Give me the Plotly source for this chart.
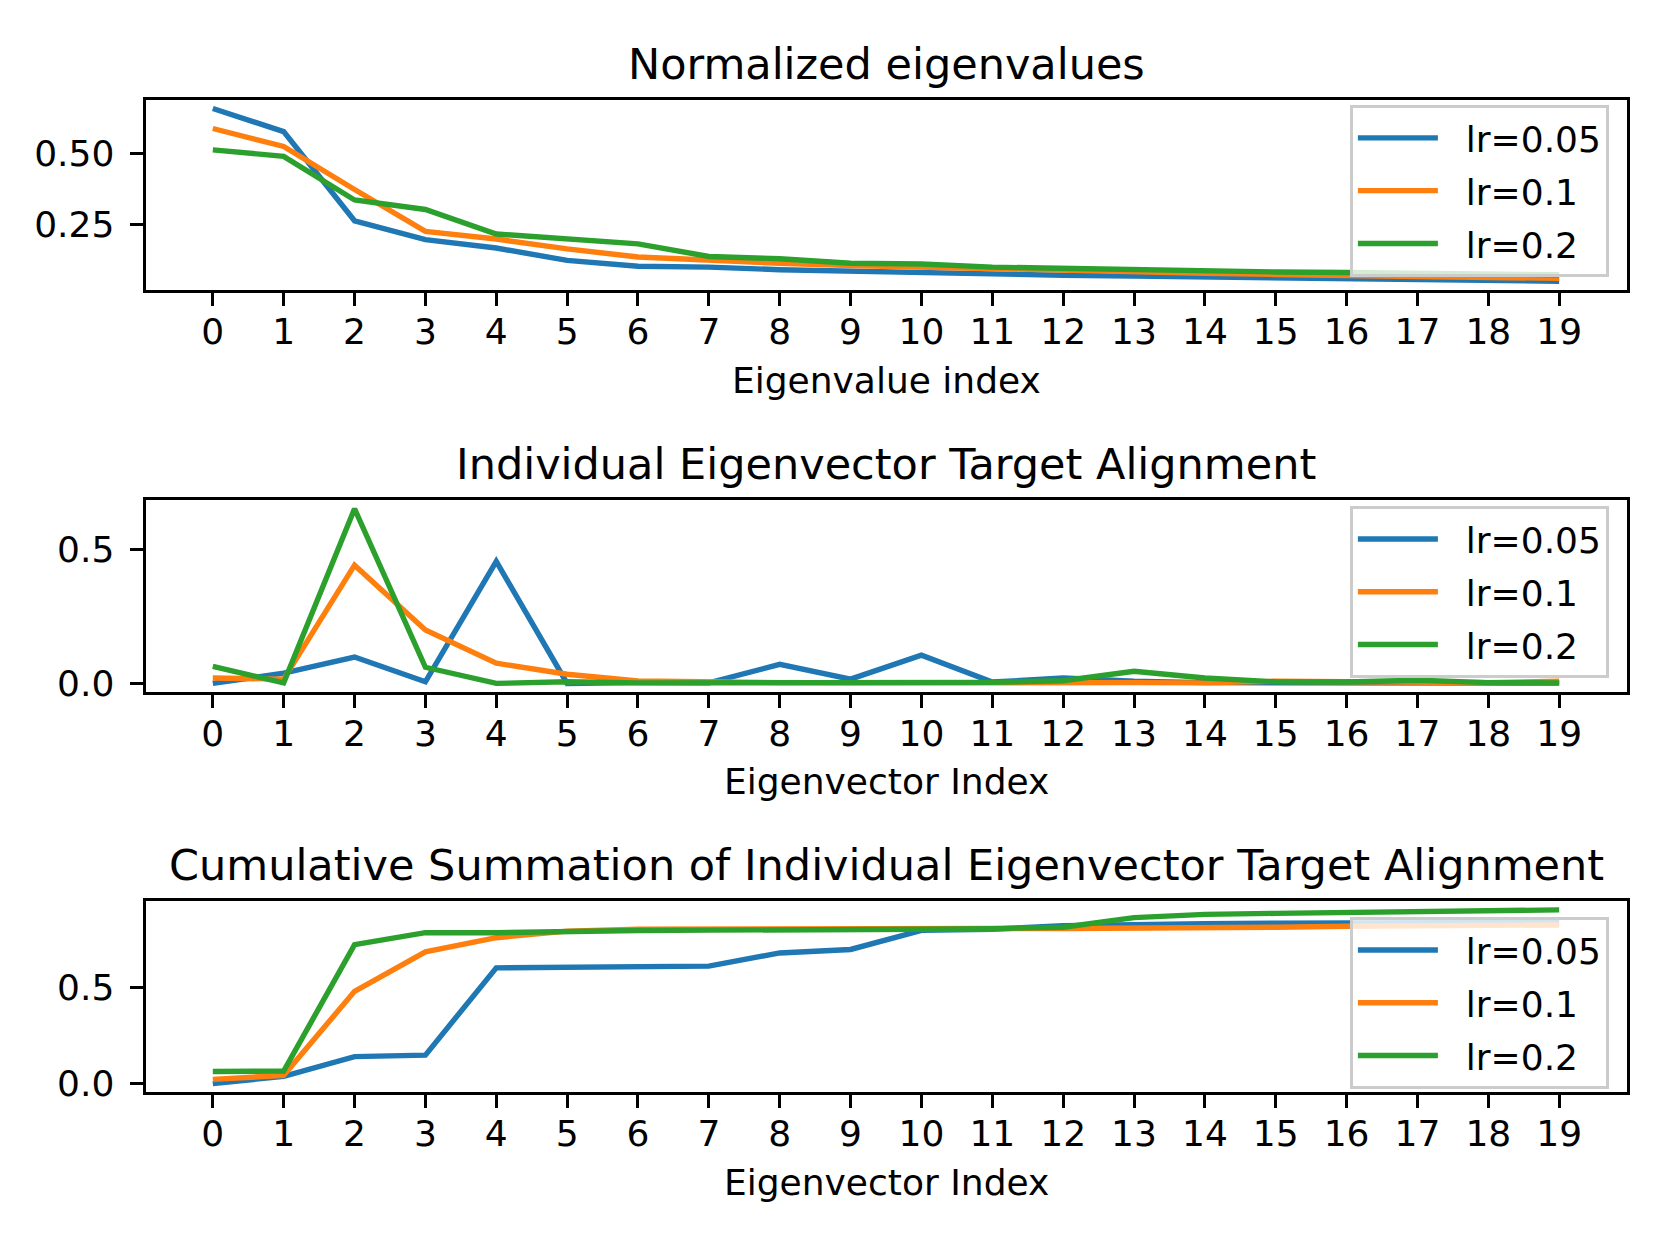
import plotly.graph_objects as go

idx = list(range(20))
labels = ["lr=0.05", "lr=0.1", "lr=0.2"]
colors = ["#1f77b4", "#ff7f0e", "#2ca02c"]

eig_005 = [0.661, 0.579, 0.262, 0.195, 0.165, 0.121, 0.100, 0.097, 0.088, 0.083,
           0.075, 0.071, 0.068, 0.065, 0.062, 0.059, 0.056, 0.053, 0.050, 0.047]
eig_01 = [0.590, 0.526, 0.373, 0.224, 0.197, 0.162, 0.133, 0.121, 0.111, 0.103,
          0.097, 0.089, 0.083, 0.079, 0.075, 0.071, 0.068, 0.064, 0.060, 0.057]
eig_02 = [0.514, 0.491, 0.336, 0.302, 0.215, 0.197, 0.180, 0.135, 0.127, 0.111,
          0.108, 0.097, 0.092, 0.088, 0.084, 0.080, 0.078, 0.075, 0.072, 0.070]

ind_005 = [0.000, 0.038, 0.098, 0.006, 0.454, 0.000, 0.003, 0.002, 0.071, 0.016,
           0.105, 0.005, 0.020, 0.008, 0.003, 0.002, 0.001, 0.001, 0.001, 0.001]
ind_01 = [0.020, 0.016, 0.440, 0.199, 0.075, 0.034, 0.009, 0.004, 0.003, 0.002,
          0.003, 0.003, 0.002, 0.003, 0.002, 0.008, 0.006, 0.004, 0.003, 0.008]
ind_02 = [0.063, 0.002, 0.650, 0.060, 0.000, 0.006, 0.002, 0.002, 0.001, 0.002,
          0.004, 0.004, 0.010, 0.045, 0.020, 0.006, 0.005, 0.012, 0.003, 0.002]

cum_005 = [0.000, 0.038, 0.140, 0.148, 0.600, 0.602, 0.606, 0.609, 0.677, 0.695,
           0.794, 0.800, 0.818, 0.826, 0.829, 0.831, 0.833, 0.834, 0.835, 0.836]
cum_01 = [0.022, 0.043, 0.478, 0.683, 0.756, 0.790, 0.800, 0.802, 0.802, 0.803,
          0.803, 0.804, 0.804, 0.805, 0.805, 0.810, 0.815, 0.818, 0.820, 0.822]
cum_02 = [0.063, 0.065, 0.720, 0.782, 0.782, 0.790, 0.793, 0.795, 0.795, 0.797,
          0.800, 0.803, 0.810, 0.860, 0.877, 0.882, 0.886, 0.896, 0.899, 0.900]

titles = ["Normalized eigenvalues", "Individual Eigenvector Target Alignment",
          "Cumulative Summation of Individual Eigenvector Target Alignment"]
xlabels = ["Eigenvalue index", "Eigenvector Index", "Eigenvector Index"]
ytickvals = [[0.25, 0.50], [0.0, 0.5], [0.0, 0.5]]
yticktext = [["0.25", "0.50"], ["0.0", "0.5"], ["0.0", "0.5"]]

panels = [[eig_005, eig_01, eig_02], [ind_005, ind_01, ind_02], [cum_005, cum_01, cum_02]]

W, H = 1660, 1245
FONT = "DejaVu Sans"
x_dom = [137.5 / W, 1618.5 / W]
y_doms = [[1 - 284.6 / H, 1 - 92.8 / H], [1 - 690.8 / H, 1 - 496.8 / H], [1 - 1094.9 / H, 1 - 901.9 / H]]
title_y = [1 - 56.5 / H, 1 - 460.6 / H, 1 - 865.7 / H]
xlab_y = [1 - 376.3 / H, 1 - 781.4 / H, 1 - 1185.5 / H]
legend_top = [1 - 98 / H, 1 - 503 / H, 1 - 918 / H]
NB = "\u00a0\u00a0"

fig = go.Figure()
layout = dict(
    width=W, height=H, margin=dict(l=0, r=0, t=0, b=0),
    paper_bgcolor="white", plot_bgcolor="white",
    font=dict(family=FONT, size=36, color="black"),
    annotations=[],
)

for p in range(3):
    ax = "" if p == 0 else str(p + 1)
    leg = "legend" if p == 0 else "legend" + str(p + 1)
    for s in range(3):
        fig.add_trace(go.Scatter(
            x=idx, y=panels[p][s], mode="lines", name=NB + labels[s],
            line=dict(color=colors[s], width=5.4),
            xaxis="x" + ax, yaxis="y" + ax, legend=leg,
            legendgroup="g%d_%d" % (p, s),
        ))
    allv = panels[p][0] + panels[p][1] + panels[p][2]
    lo, hi = min(allv), max(allv)
    pad = 0.05 * (hi - lo)
    axis_common = dict(
        showline=True, mirror=True, linecolor="black", linewidth=2.9,
        ticks="outside", ticklen=13, tickwidth=2.9, tickcolor="black",
        showgrid=False, zeroline=False,
        tickfont=dict(family=FONT, size=36, color="black"),
    )
    layout["xaxis" + ax] = dict(
        domain=x_dom, range=[-0.95, 19.95], tickmode="array",
        tickvals=idx, ticktext=[str(i) for i in idx],
        anchor="y" + ax, ticklabelstandoff=-5, **axis_common,
    )
    layout["yaxis" + ax] = dict(
        domain=y_doms[p], range=[lo - pad, hi + pad], tickmode="array",
        tickvals=ytickvals[p], ticktext=yticktext[p],
        anchor="x" + ax, ticklabelstandoff=8, **axis_common,
    )
    layout[leg] = dict(
        x=1601 / W, xanchor="right", y=legend_top[p], yanchor="top",
        xref="paper", yref="paper",
        bgcolor="rgba(255,255,255,0.8)", bordercolor="#cccccc", borderwidth=2.9,
        font=dict(family=FONT, size=36, color="black"),
        itemwidth=80, tracegroupgap=3,
    )
    layout["annotations"].append(dict(
        text=titles[p], x=(x_dom[0] + x_dom[1]) / 2, y=title_y[p],
        xref="paper", yref="paper", showarrow=False, xanchor="center", yanchor="middle",
        font=dict(family=FONT, size=43, color="black"),
    ))
    layout["annotations"].append(dict(
        text=xlabels[p], x=(x_dom[0] + x_dom[1]) / 2, y=xlab_y[p],
        xref="paper", yref="paper", showarrow=False, xanchor="center", yanchor="middle",
        font=dict(family=FONT, size=36, color="black"),
    ))

fig.update_layout(**layout)
fig.write_html("out.html")
